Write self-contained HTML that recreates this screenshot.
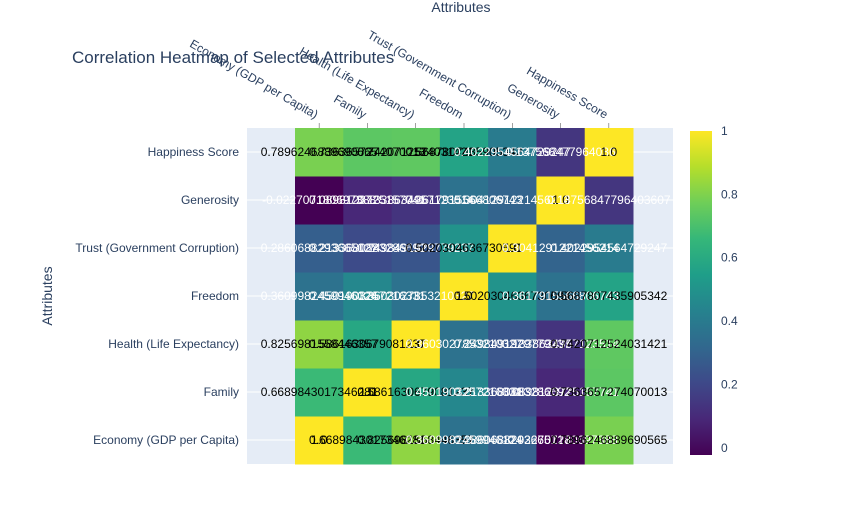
<!DOCTYPE html>
<html><head><meta charset="utf-8"><style>
body{margin:0;background:#fff;}
svg{display:block;font-family:"Liberation Sans",sans-serif;}
</style></head><body>
<svg id="chart" width="861" height="517">
<rect x="0" y="0" width="861" height="517" fill="#fff"/>
<text x="72" y="63" font-size="17" fill="#2a3f5f">Correlation Heatmap of Selected Attributes</text>
<text x="461" y="12" font-size="14" fill="#2a3f5f" text-anchor="middle">Attributes</text>
<text x="0" y="0" font-size="14" fill="#2a3f5f" text-anchor="middle" transform="translate(52,296) rotate(-90)">Attributes</text>
<rect x="247" y="128" width="426" height="336" fill="#E5ECF6"/>
<g id="grid"></g><g id="cells"></g><g id="labels"></g><g id="xt"></g><g id="yt"></g><g id="cb"></g>
</svg>
<script>
const categories=["Economy (GDP per Capita)","Family","Health (Life Expectancy)","Freedom","Trust (Government Corruption)","Generosity","Happiness Score"];
const rowEconomy=[1.0,0.6689843017346281,0.8256981558446357,0.3609982459946124,0.2860688293665127,-0.022707180697388,0.7896246889690565];
const rowFamily=[0.6689843017346281,1.0,0.5861630679081237,0.4501903257216331,0.2133680883286692,0.0898123725157741,0.7363657274070013];
const rowHealth=[0.8256981558446357,0.5861630679081237,1.0,0.3603027853210327,0.2498491929779237,0.1338634957123514,0.7420712524031421];
const rowFreedom=[0.3609982459946124,0.4501903257216331,0.3603027853210327,1.0,0.5020304636730592,0.3617915566806743,0.5687807435905342];
const rowTrust=[0.2860688293665127,0.2133680883286692,0.2498491929779237,0.5020304636730592,1.0,0.3041291221456214,0.4022954564729247];
const rowGenerosity=[-0.022707180697388,0.0898123725157741,0.1338634957123514,0.3617915566806743,0.3041291221456214,1.0,0.1375684779640360774];
const rowHappiness=[0.7896246889690565,0.7363657274070013,0.7420712524031421,0.5687807435905342,0.4022954564729247,0.1375684779640360,1.0];
const matrix=[rowEconomy,rowFamily,rowHealth,rowFreedom,rowTrust,rowGenerosity,rowHappiness];
const cbTicks=[0,0.2,0.4,0.6,0.8,1];
const zmin=-0.022707180697388,zmax=1;
const NS="http://www.w3.org/2000/svg";
const hx0=295,hx1=633,py0=128,py1=464;
const cw=(hx1-hx0)/categories.length, ch=(py1-py0)/categories.length;
function xCenter(i){return hx0+cw*(i+0.5);}
function yCenter(j){return py1-ch*(j+0.5);}
const vir=[[68,1,84],[72,40,120],[62,73,137],[49,104,142],[38,130,142],[31,158,137],[53,183,121],[110,206,88],[181,222,43],[253,231,37]];
function color(v){let t=(v-zmin)/(zmax-zmin);t=Math.max(0,Math.min(1,t))*(vir.length-1);const i=Math.min(vir.length-2,Math.floor(t)),f=t-i;const c=vir[i].map((a,k)=>Math.round(a+(vir[i+1][k]-a)*f));return`rgb(${c})`;}
function mk(tag,attrs,parent){const e=document.createElementNS(NS,tag);for(const k in attrs)e.setAttribute(k,attrs[k]);document.getElementById(parent).appendChild(e);return e;}
function fmt(v){return Number.isInteger(v)?v.toFixed(1):String(v);}
categories.forEach((c,j)=>{
 const g=mk('line',{x1:247,x2:673,y1:yCenter(j),y2:yCenter(j),stroke:'#fff','stroke-width':1},'grid');
 
 
 const t=mk('text',{x:239,y:yCenter(j)+4,'font-size':12,fill:'#2a3f5f','text-anchor':'end'},'yt');t.textContent=c;
 
 
 const xc=xCenter(j);
 const tk=mk('line',{x1:xc,x2:xc,y1:py0-5,y2:py0,stroke:'#444','stroke-width':0.5},'xt');
 
 
 const xt=mk('text',{x:0,y:0,'font-size':12,fill:'#2a3f5f','text-anchor':'end',transform:`translate(${xc-4},${py0-9}) rotate(30)`},'xt');xt.textContent=c;
 
 
});
matrix.forEach((row,j)=>row.forEach((v,i)=>{
 const r=mk('rect',{x:hx0+cw*i,y:py1-ch*(j+1),width:cw+0.5,height:ch+0.5,fill:color(v)},'cells');
 
 
}));
matrix.forEach((row,j)=>row.forEach((v,i)=>{
 const t=mk('text',{x:xCenter(i),y:yCenter(j)+4,'font-size':12,'text-anchor':'middle',fill:v>0.5?'#000':'#fff'},'labels');
 t.textContent=fmt(v);
 
 
}));
const cbx=690,cbw=22,cby0=131,cby1=455;
const grad=mk('defs',{},'cb');
const lg=document.createElementNS(NS,'linearGradient');lg.setAttribute('id','vg');lg.setAttribute('x1','0');lg.setAttribute('y1','1');lg.setAttribute('x2','0');lg.setAttribute('y2','0');grad.appendChild(lg);
vir.forEach((c,k)=>{const s=document.createElementNS(NS,'stop');s.setAttribute('offset',k/(vir.length-1));s.setAttribute('stop-color',`rgb(${c})`);lg.appendChild(s);});
const cbr=mk('rect',{x:cbx,y:cby0,width:cbw,height:cby1-cby0,fill:'url(#vg)'},'cb');


function cbY(v){return cby1-(v-zmin)/(zmax-zmin)*(cby1-cby0);}
cbTicks.forEach(v=>{
 const t=mk('text',{x:cbx+cbw+9,y:cbY(v)+4,'font-size':12,fill:'#2a3f5f'},'cb');t.textContent=String(v);
 
 
});
</script>
</body></html>
